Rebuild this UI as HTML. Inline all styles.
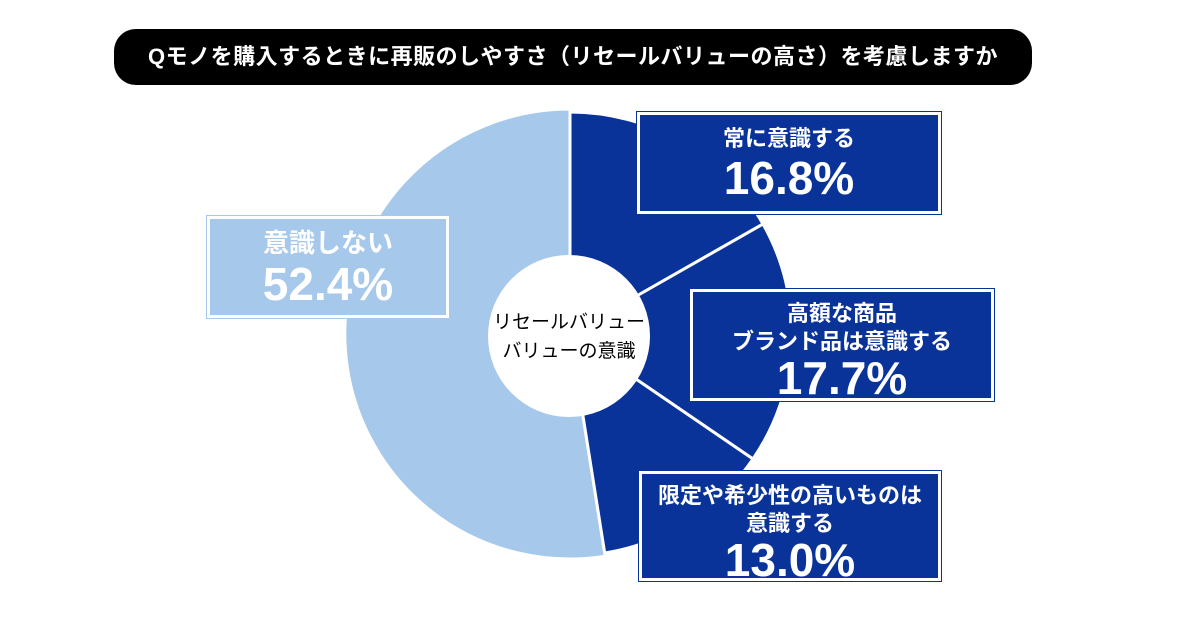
<!DOCTYPE html>
<html><head><meta charset="utf-8"><style>
body{margin:0;width:1200px;height:630px;background:#fff;overflow:hidden;position:relative;font-family:"Liberation Sans","Noto Sans CJK JP",sans-serif}
.title{position:absolute;left:114px;top:29px;width:918px;height:56px;background:#000;border-radius:22px;color:#fff;font-weight:bold;font-size:22px;line-height:56px;text-align:center;letter-spacing:0.5px}
.box{position:absolute;box-sizing:border-box;border:3px solid #fff;background:#0a3399;color:#fff;font-weight:bold;text-align:center;outline:1px solid #0a3399}
.lab{font-size:22px;line-height:28px}
.pct{font-size:46px;line-height:50px}
</style></head><body>
<div class="title">Qモノを購入するときに再販のしやすさ（リセールバリューの高さ）を考慮しますか</div>
<svg width="1200" height="630" style="position:absolute;left:0;top:0">
<path d="M570,334 L605.2,556.2 A225 225 0 1 1 570,109 Z" fill="#a6c8ea" stroke="#fff" stroke-width="3"/>
<path d="M570,334 L570,112 A222 222 0 0 1 763,224 Z" fill="#0a3399" stroke="#fff" stroke-width="3"/>
<path d="M570,334 L763,224 A222 222 0 0 1 753,459 Z" fill="#0a3399" stroke="#fff" stroke-width="3"/>
<path d="M570,334 L753,459 A222 222 0 0 1 604.7,553 Z" fill="#0a3399" stroke="#fff" stroke-width="3"/>
<circle cx="569" cy="336" r="81" fill="#fff"/>
<text x="569" y="328" font-size="19" text-anchor="middle" font-family="Liberation Sans, Noto Sans CJK JP, sans-serif">リセールバリュー</text>
<text x="569" y="357" font-size="19" text-anchor="middle" font-family="Liberation Sans, Noto Sans CJK JP, sans-serif">バリューの意識</text>
</svg>
<div class="box" style="left:207px;top:216px;width:242px;height:102px;background:#a6c8ea;outline-color:#a6c8ea;padding-top:8px"><div class="lab" style="font-size:26px;line-height:32px">意識しない</div><div class="pct">52.4%</div></div>
<div class="box" style="left:637px;top:112px;width:304px;height:102px;padding-top:10px"><div class="lab">常に意識する</div><div class="pct">16.8%</div></div>
<div class="box" style="left:690px;top:289px;width:304px;height:112px;padding-top:8px"><div class="lab">高額な商品<br>ブランド品は意識する</div><div class="pct" style="line-height:44px">17.7%</div></div>
<div class="box" style="left:639px;top:471px;width:302px;height:110px;padding-top:8px"><div class="lab">限定や希少性の高いものは<br>意識する</div><div class="pct" style="line-height:44px">13.0%</div></div>
</body></html>
